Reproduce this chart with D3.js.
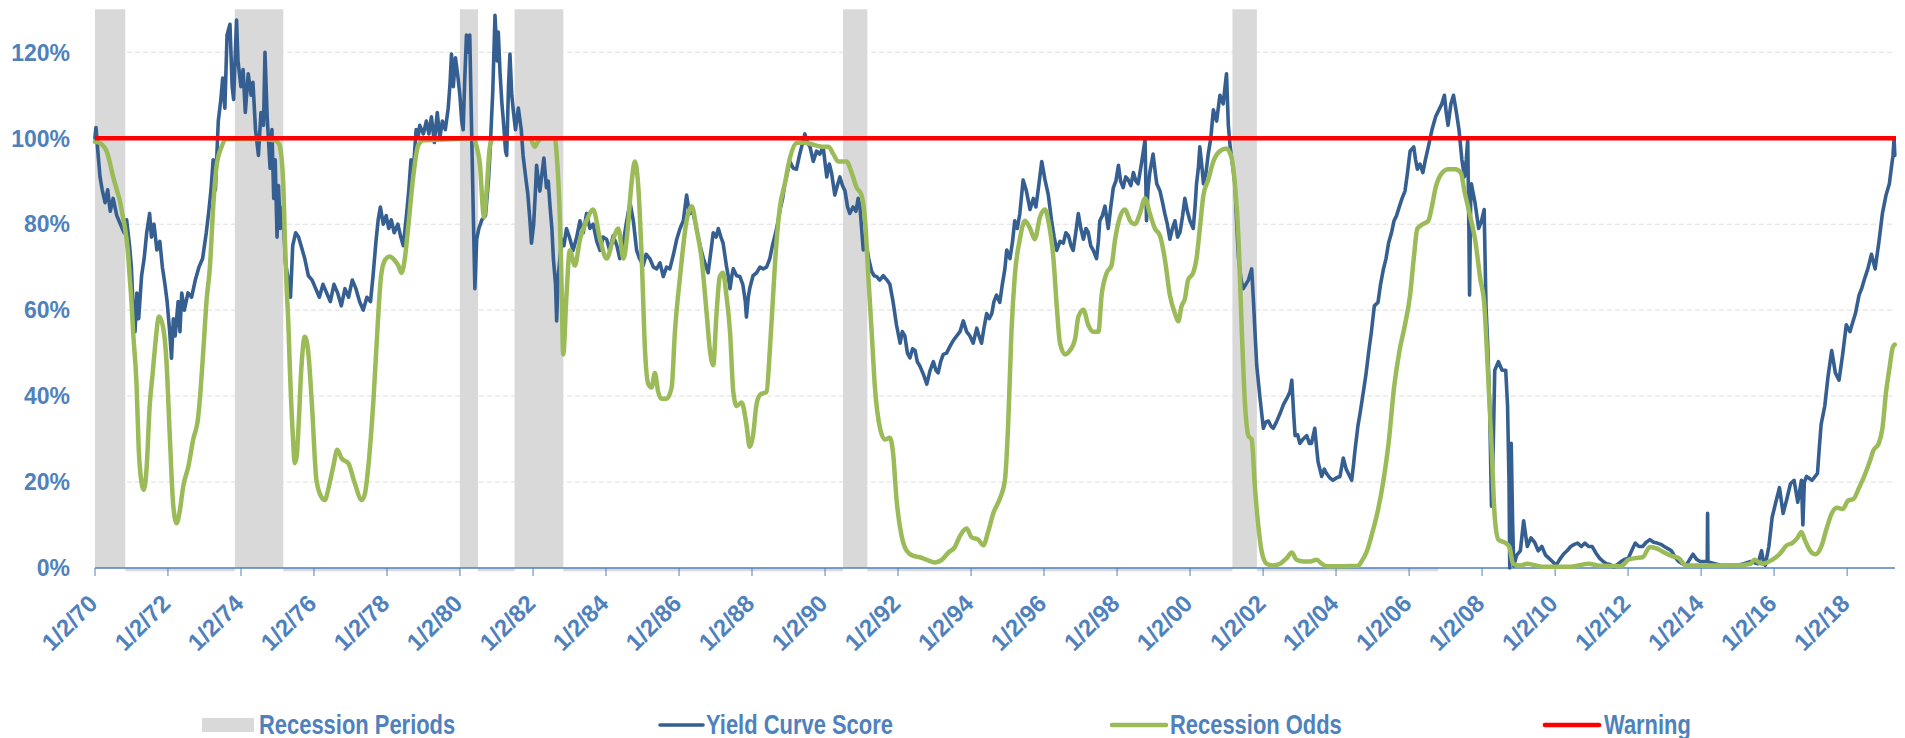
<!DOCTYPE html>
<html>
<head>
<meta charset="utf-8">
<script src="https://cdn.jsdelivr.net/npm/d3@7/dist/d3.min.js"></script>
<style>
html,body{margin:0;padding:0;background:#fff;}
svg{display:block;}
</style>
</head>
<body>
<svg id="chart" width="1905" height="738"></svg>
<script>
// ---------------- DATA ----------------
const tickLabels = ["1/2/70","1/2/72","1/2/74","1/2/76","1/2/78","1/2/80","1/2/82","1/2/84","1/2/86","1/2/88",
  "1/2/90","1/2/92","1/2/94","1/2/96","1/2/98","1/2/00","1/2/02","1/2/04","1/2/06","1/2/08","1/2/10",
  "1/2/12","1/2/14","1/2/16","1/2/18"];
const yTickValues = [0, 20, 40, 60, 80, 100, 120];
const yMax = 130;
const xEndYear = 2019.315;

const recessionStarts = ["1970-01-02","1973-11-01","1980-01-01","1981-07-01","1990-07-01","2001-03-01"];
const recessionEnds   = ["1970-11-01","1975-03-01","1980-07-01","1982-11-01","1991-03-01","2001-11-01"];
const recessionSeriesEnd = 2006.8;

const warningLevel = 100;

const scoreYears = [1970.00,1970.03,1970.08,1970.14,1970.2,1970.28,1970.35,1970.42,1970.5,1970.6,1970.7,1970.8,1970.87,1970.95,
1971.0,1971.05,1971.1,1971.15,1971.2,1971.28,1971.35,1971.42,1971.5,1971.55,1971.62,1971.7,1971.78,1971.85,1971.92,1971.98,
1972.05,1972.1,1972.15,1972.2,1972.28,1972.33,1972.38,1972.45,1972.55,1972.65,1972.75,1972.85,1972.95,
1973.05,1973.12,1973.18,1973.24,1973.3,1973.38,1973.45,1973.5,1973.56,1973.62,1973.7,1973.76,1973.8,1973.88,1973.92,
1974.0,1974.06,1974.12,1974.2,1974.28,1974.33,1974.4,1974.48,1974.55,1974.62,1974.66,1974.72,1974.8,1974.85,1974.9,1974.94,1974.99,
1975.03,1975.08,1975.15,1975.22,1975.3,1975.36,1975.42,1975.5,1975.58,1975.65,1975.75,1975.85,1975.95,
1976.05,1976.15,1976.25,1976.35,1976.45,1976.55,1976.65,1976.75,1976.85,1976.95,
1977.05,1977.15,1977.25,1977.35,1977.45,1977.55,1977.62,1977.7,1977.76,1977.82,1977.9,1977.98,
1978.05,1978.12,1978.2,1978.3,1978.38,1978.45,1978.54,1978.6,1978.66,1978.72,1978.8,1978.85,1978.9,
1979.0,1979.08,1979.15,1979.22,1979.3,1979.38,1979.45,1979.52,1979.6,1979.68,1979.73,1979.77,1979.82,1979.88,1979.95,
1980.0,1980.05,1980.09,1980.13,1980.18,1980.22,1980.27,1980.32,1980.37,1980.41,1980.46,1980.52,1980.6,1980.7,1980.78,1980.82,1980.9,1980.96,
1981.02,1981.05,1981.1,1981.15,1981.19,1981.25,1981.28,1981.33,1981.37,1981.42,1981.46,1981.52,1981.6,1981.68,1981.73,1981.8,1981.86,1981.92,1981.96,
1982.02,1982.07,1982.1,1982.15,1982.19,1982.25,1982.3,1982.37,1982.42,1982.47,1982.52,1982.56,1982.62,1982.65,1982.69,1982.74,1982.79,1982.85,1982.92,
1983.0,1983.1,1983.2,1983.29,1983.38,1983.47,1983.56,1983.65,1983.75,1983.84,1983.92,
1984.02,1984.1,1984.2,1984.3,1984.38,1984.48,1984.57,1984.66,1984.75,1984.84,1984.92,
1985.02,1985.1,1985.2,1985.3,1985.39,1985.48,1985.57,1985.66,1985.75,1985.85,1985.94,
1986.03,1986.12,1986.21,1986.26,1986.3,1986.38,1986.48,1986.58,1986.67,1986.75,1986.8,1986.88,1986.94,
1987.02,1987.08,1987.15,1987.21,1987.3,1987.35,1987.4,1987.45,1987.49,1987.58,1987.67,1987.75,1987.82,1987.85,1987.9,1987.94,
1988.03,1988.13,1988.22,1988.31,1988.4,1988.49,1988.56,1988.63,1988.7,1988.77,1988.84,1988.9,1988.97,
1989.04,1989.13,1989.22,1989.3,1989.36,1989.45,1989.52,1989.59,1989.68,1989.77,1989.86,1989.95,
1990.05,1990.12,1990.18,1990.27,1990.34,1990.41,1990.48,1990.55,1990.62,1990.68,1990.77,1990.85,1990.91,1990.96,
1991.05,1991.12,1991.2,1991.28,1991.35,1991.42,1991.5,1991.6,1991.7,1991.78,1991.87,1991.96,
1992.06,1992.12,1992.19,1992.26,1992.33,1992.4,1992.47,1992.53,1992.6,1992.7,1992.79,1992.88,1992.97,
1993.04,1993.1,1993.17,1993.24,1993.33,1993.42,1993.52,1993.61,1993.7,1993.79,1993.88,1993.97,
1994.06,1994.16,1994.22,1994.29,1994.36,1994.43,1994.5,1994.57,1994.63,1994.7,1994.79,1994.86,1994.93,1994.98,
1995.07,1995.14,1995.2,1995.27,1995.34,1995.38,1995.43,1995.52,1995.62,1995.71,1995.78,1995.85,1995.94,
1996.03,1996.12,1996.21,1996.28,1996.35,1996.44,1996.53,1996.6,1996.67,1996.74,1996.8,1996.87,1996.94,
1997.01,1997.08,1997.15,1997.21,1997.28,1997.35,1997.44,1997.49,1997.53,1997.6,1997.67,1997.76,1997.83,1997.9,1997.97,
1998.04,1998.1,1998.17,1998.24,1998.31,1998.38,1998.45,1998.52,1998.58,1998.68,1998.77,1998.79,1998.81,1998.85,1998.9,1998.99,
1999.05,1999.09,1999.18,1999.25,1999.31,1999.38,1999.45,1999.52,1999.59,1999.66,1999.73,1999.8,1999.86,1999.93,
2000.0,2000.09,2000.14,2000.18,2000.23,2000.27,2000.32,2000.37,2000.44,2000.5,2000.57,2000.64,2000.73,2000.82,2000.91,2000.96,
2001.0,2001.05,2001.1,2001.14,2001.23,2001.28,2001.33,2001.4,2001.46,2001.53,2001.6,2001.69,2001.74,2001.78,2001.83,2001.92,
2002.01,2002.08,2002.15,2002.22,2002.28,2002.37,2002.47,2002.56,2002.65,2002.74,2002.79,2002.84,2002.88,2002.95,
2003.01,2003.1,2003.2,2003.27,2003.33,2003.42,2003.47,2003.51,2003.61,2003.68,2003.74,2003.83,2003.92,
2004.02,2004.11,2004.2,2004.28,2004.34,2004.43,2004.48,2004.52,2004.6,2004.66,2004.75,2004.82,2004.9,2004.97,
2005.05,2005.15,2005.22,2005.3,2005.37,2005.44,2005.52,2005.59,2005.66,2005.74,2005.81,2005.89,2005.96,
2006.03,2006.13,2006.18,2006.23,2006.3,2006.38,2006.45,2006.53,2006.63,2006.73,2006.82,2006.9,2006.97,
2007.02,2007.07,2007.15,2007.22,2007.3,2007.37,2007.45,2007.52,2007.57,2007.61,2007.64,2007.66,2007.69,2007.71,2007.81,2007.91,2007.99,
2008.06,2008.11,2008.16,2008.21,2008.26,2008.31,2008.35,2008.45,2008.55,2008.65,2008.7,2008.74,2008.76,2008.8,2008.84,2008.87,2008.95,
2009.05,2009.14,2009.24,2009.34,2009.44,2009.54,2009.64,2009.74,2009.83,2009.93,
2010.03,2010.13,2010.23,2010.33,2010.43,2010.53,2010.62,2010.72,2010.82,2010.92,
2011.02,2011.12,2011.22,2011.32,2011.41,2011.51,2011.61,2011.71,2011.81,2011.91,
2012.01,2012.1,2012.2,2012.3,2012.4,2012.5,2012.6,2012.7,2012.8,2012.9,2012.99,
2013.09,2013.19,2013.29,2013.39,2013.49,2013.59,2013.69,2013.78,2013.88,2013.98,
2014.1,2014.17,2014.18,2014.19,2014.28,2014.38,2014.57,2014.77,2014.97,
2015.17,2015.36,2015.56,2015.66,2015.72,2015.76,2015.86,2015.95,
2016.05,2016.15,2016.25,2016.35,2016.45,2016.55,2016.65,2016.75,2016.79,2016.83,2016.89,
2017.04,2017.19,2017.24,2017.29,2017.39,2017.48,2017.58,2017.68,2017.78,2017.88,2017.98,
2018.08,2018.15,2018.23,2018.33,2018.4,2018.47,2018.57,2018.67,2018.77,2018.87,2018.97,
2019.07,2019.16,2019.21,2019.26,2019.29,2019.31];

const scoreValues = [100,102.5,97,91,88,85,88,83,86,82,80,78,81,75,
70,60,55,64,58,68,72,78,82.5,77,80,74,76,70,66,62,
55,48.8,58,54,62,55,64,60,64,63,67,70,72,
78,83,88,95,88,104,109,114,107,124,126.5,112,109,127.5,118,
112,116,106,115,110,113,102,96,106,103,120,105,93,102,86,95,77,
89,79,84,71,67,63,75,78,77,75,72,68,67,
65,63,66,64,62,66,64,61,65,63,
67,65,62,60,63,62,68,76,81,84,80,82,
79,81,78,80,77,75,82.5,88,95,92,102,100,103,
101,104,101,105,99,106,100,104,102,107,112.7,119.6,112,118.7,114,
110,104,102,113,124,120,124,102,81,65,76.5,79,81,82,90,96,111,128.6,
118,124.7,115,108,104,97,96,112,119.6,110,106.6,102,107,102,96,91,87,80.6,75.6,
80,88,93.7,90,87.7,92,95.4,88.5,90,84,79,72,66,57.5,67.8,72,76.5,75,79,
77,73.9,77,80.8,78,82.5,79,80,76,73.9,77,
76.5,74,77.3,75,72,76,80.8,85,80.8,73.9,72,
70.4,73,72,70,69.6,71,67.8,70,69.6,73,76.5,
79,80.8,86.8,84,82.5,83,79,75,72,70,68.7,74,78,
77,79,77,75.6,70.4,68,65,68,69.6,68,67.8,66,62,58.4,63,65,
68,68.7,70,69.6,70,72,75,77.3,80,83.4,86,89.4,92,
94.6,93,92.8,96,98,101,99,98,94.6,97,96.3,98,
91,94,92,86.8,89,91,89,87.7,84,82.5,84,83,86,84,
74,76,72,69,68,67.8,67,68,67,66,61.8,56.6,
52.3,55,54,50,48.9,51,50.6,48,47,45,42.8,46,48,
46,45.4,48,49.7,50,51.5,53,54,55,57.5,55,54,
52.3,55.8,54,52.3,56,59.2,58,59.2,62,63.5,61.8,66,69.6,74,
72,76,80.8,79,82.5,86,90.3,87.7,83.4,86,84,88.5,94.6,
90.3,86.8,80.8,77,73.9,76,75.6,78,77.3,75,73.9,78,82.5,
79,76.5,79,78.2,75,73.9,72,76,80.8,82,84.2,79,84,88.5,90,
93.7,90,88.5,91,90.3,89,92,90,89.4,94.6,99.7,90,80.8,88,92,96.3,
92,89.4,87.7,85,82.5,80,76.5,79,80.8,77,78.2,82,86,83,
80.8,79,84,89.4,93,98,94,89.4,92,96.3,100,106.6,104,110,108,112,
115,103,98,95.4,89.4,80,72,67,65,66,67,69.6,62,55,47,39.4,
32.5,34,34.2,33,32.5,34,36,38,39.4,41,43.7,36,30.8,31,
29,30,30.8,29,29,32.5,28,24.7,21.3,23,22,21,20.4,
21,21.3,25.6,23,22,20.4,24,27.3,33,36,41,45,50.6,55,
61,61.8,66,69.6,72,75.6,78,80.8,82,84.2,86,87.7,92,
97,98,95,92.8,94,92,95,98,102,105,106.6,108,110,
106,103,108,110,106,102,95,91,95,99.7,80,63.5,85,89.4,85,79,80.8,
83.4,61,51.5,37.7,14.4,29,46,48,46,46,37.7,20,0,29,10,0.5,3,
4,11,5,7,6,4,5,3,2.3,1.5,
0.6,2,3.2,4,5,5.5,5.8,5,5.8,5,
5,3.5,2.3,1.5,1,0.8,0.2,0.8,1.5,2,
2.3,4,5.8,5,5,6,6.6,6,5.8,5.5,5,
4.5,4,2.5,1.5,1,0.6,2,3.2,2,1.5,
1.5,1.5,12.7,1.5,1.2,1,0.6,0.6,0.6,
1,1.5,1,4,1,0.6,5,11.8,
15.3,18.7,12.7,16,19.6,20.4,15.3,20.4,10,20,21.3,
20.4,22,28,33.4,37.7,44.6,50.6,45.4,43.7,49.7,56.6,
55,57,59.2,63.5,65,67,69.6,73,69.6,75.6,82.5,
86.8,89.4,92.8,96,100,96];

const oddsYears = [1970.0,1970.1,1970.2,1970.32,1970.42,1970.5,1970.6,1970.68,1970.76,1970.82,1970.9,1970.96,
1971.0,1971.05,1971.14,1971.2,1971.26,1971.34,1971.42,1971.5,1971.58,1971.64,1971.76,1971.87,1971.96,
1972.05,1972.15,1972.24,1972.33,1972.42,1972.56,1972.69,1972.83,1972.9,1972.97,
1973.06,1973.15,1973.24,1973.33,1973.47,1973.6,1974.0,1974.5,1974.9,1975.02,1975.07,1975.16,1975.2,1975.25,1975.3,1975.34,
1975.42,1975.48,1975.53,1975.57,1975.66,1975.75,1975.84,1975.94,
1976.07,1976.2,1976.3,1976.39,1976.53,1976.64,1976.76,1976.94,
1977.12,1977.31,1977.4,1977.49,1977.63,1977.76,1977.84,1977.95,
1978.08,1978.22,1978.31,1978.4,1978.49,1978.58,1978.72,1978.86,
1979.0,1979.6,1980.36,1980.46,1980.55,1980.64,1980.66,1980.73,1980.82,1980.91,
1981.5,1981.92,1982.05,1982.14,1982.28,1982.6,1982.65,1982.74,1982.79,1982.83,1982.92,
1983.01,1983.15,1983.29,1983.47,1983.65,1983.84,
1984.02,1984.2,1984.34,1984.48,1984.57,1984.7,1984.79,1984.88,1984.98,
1985.07,1985.16,1985.25,1985.34,1985.43,1985.52,1985.66,1985.8,1985.89,
1986.03,1986.21,1986.35,1986.48,1986.62,1986.76,1986.85,1986.94,
1987.03,1987.12,1987.21,1987.3,1987.4,1987.49,1987.58,1987.72,1987.85,1987.94,
1988.03,1988.12,1988.22,1988.4,1988.49,1988.58,1988.67,1988.77,1988.9,
1989.04,1989.22,1989.4,1989.96,1990.1,1990.23,1990.36,1990.59,1990.73,1990.87,
1991.0,1991.1,1991.19,1991.28,1991.37,1991.51,1991.64,1991.78,1991.87,1991.96,
1992.1,1992.24,1992.42,1992.6,1992.79,1993.01,1993.2,1993.38,1993.56,1993.7,1993.88,
1994.02,1994.2,1994.34,1994.47,1994.61,1994.79,1994.93,
1995.02,1995.11,1995.2,1995.34,1995.48,1995.62,1995.75,1995.89,
1996.03,1996.12,1996.26,1996.35,1996.44,1996.58,1996.71,1996.85,1996.94,
1997.08,1997.21,1997.35,1997.49,1997.58,1997.72,1997.85,1997.95,
1998.08,1998.22,1998.36,1998.49,1998.63,1998.77,1998.9,
1999.04,1999.18,1999.31,1999.45,1999.59,1999.68,1999.77,1999.86,1999.95,
2000.09,2000.18,2000.27,2000.37,2000.5,2000.64,2000.82,
2001.0,2001.14,2001.23,2001.33,2001.42,2001.51,2001.6,2001.69,2001.78,2001.87,2001.96,
2002.1,2002.28,2002.47,2002.65,2002.79,2002.92,2003.11,2003.29,2003.47,2003.61,2003.74,
2004.2,2004.6,2004.7,2004.85,2005.0,2005.15,2005.3,2005.44,2005.59,2005.74,2005.89,
2006.03,2006.13,2006.23,2006.38,2006.53,2006.63,2006.73,2006.87,
2007.07,2007.27,2007.42,2007.52,2007.66,2007.81,2007.96,
2008.06,2008.16,2008.26,2008.35,2008.45,2008.65,2008.75,2008.85,
2009.05,2009.24,2009.64,2010.43,2010.92,2011.22,2011.81,
2012.01,2012.2,2012.4,2012.6,2012.8,2012.99,2013.19,2013.39,2013.59,
2014.38,2014.97,2015.36,2015.46,2015.66,2015.95,
2016.15,2016.35,2016.5,2016.65,2016.75,2016.84,2016.99,
2017.14,2017.29,2017.44,2017.58,2017.73,2017.88,
2018.03,2018.18,2018.33,2018.47,2018.62,2018.72,2018.87,2018.97,
2019.07,2019.16,2019.26,2019.31];

const oddsValues = [99.2,99,98.5,97,94,91,88,85.6,82,79.4,74,67,
62.4,54.6,43,28,21,18.2,23.6,37.5,45,50.7,58.5,56,48.4,
31.3,14.3,10.4,13.5,19,23.6,29.8,35.2,42,50.7,
62.4,70,84,93.4,98,99.8,99.8,99.8,99.5,99,98,89.5,78,66,57,46.9,
31.3,24.4,26,31.3,46.9,53.8,50.7,39,
20.5,16.6,15.8,18.2,23.6,27.5,25.5,24.4,
19.7,15.8,17.4,23.6,39,58.5,68,71.7,
72.5,71.5,70.4,68.7,72,79,91,98.4,
99.5,99.7,100,98,93.7,82.5,81.6,87.7,98,100,
100,100,98,99.3,100,100,96.3,80.8,63.5,49.7,63.5,
73.9,70.4,76.5,80.8,83.4,76.5,
72,76.5,79,72,76.5,89.4,94.6,89.4,72,
50.6,42.8,42,45.4,41,39.4,39.4,42,55,
67.8,80.8,84.2,79,72,59.2,50.6,47.2,
59.2,67.8,68.7,63.5,55,41,37.7,38.5,33.4,28.2,
30.8,37.7,40.3,41,50.6,63.5,75.6,84.2,89.4,
95.4,98.9,99,98,98,96.3,94.6,94.6,92,88.5,
86.8,80.8,67.8,55,42,32.5,29.9,30.3,26.5,16.1,
7.5,4,2.8,2.5,1.9,1.3,1.9,3.6,4.9,7.5,9.2,
7.1,6.6,5.3,8.4,12.7,16.1,20.4,
33.4,55,67.8,76.5,80.8,79,76.5,81.6,
83.4,80.8,72,61,52.3,49.7,50.6,53.2,58.4,
60.1,56.6,55,55,63.5,68.7,70.4,76.5,
81.6,83.4,80.8,80,82.5,86,82.5,
79,77.3,72,63.5,59.2,57.4,60.9,62.6,67,
68.7,72,79,86.8,90.3,94.6,97,
97.6,95.4,89.4,76.5,55,37.7,30.8,29.9,18.7,10,4,
1,0.6,1,2.3,3.6,1.9,1.5,1.5,1.9,1,0.4,
0.4,0.5,1.5,4,8.4,13.5,20.4,29,42,50.6,56.6,
63.5,72,79,80,80.8,84.2,88.5,91.5,
92.8,92.8,92,87.7,82.5,76.5,67,
61.8,46.3,29,11.8,6.6,5.8,4.9,1,
0.6,1,0.3,0.3,1,0.5,0.4,
1.9,2.3,2.5,4.9,4.5,3.6,2.8,2.3,0.6,
0.6,0.6,1,1.9,1,1.9,
3.2,5.3,5.8,7.1,8.4,6.6,4,
3.2,4.9,9.2,12.7,14,13.7,
15.7,16.1,18.7,21.3,24.7,27.3,29,32.5,
41,46.3,51.5,52];

// ---------------- CHART ----------------
const W = 1905, H = 738;
const plot = {left: 95, right: 1895, top: 9.3, bottom: 568};
const C = {
  text: "#4F81BD", axis: "#4F81BD", grid: "#DDDDDD", shade: "#D9D9D9",
  score: "#365F91", odds: "#9BBB59", warn: "#FF0000"
};
const FONT = "'Liberation Sans', Arial, Helvetica, sans-serif";

function yearToDate(y) {
  const yr = Math.floor(y);
  const a = Date.UTC(yr, 0, 1), b = Date.UTC(yr + 1, 0, 1);
  return new Date(a + (y - yr) * (b - a));
}
const parseTick = d3.utcParse("%m/%d/%y");
const parseDay = d3.utcParse("%Y-%m-%d");

const x = d3.scaleUtc()
  .domain([parseTick(tickLabels[0]), yearToDate(xEndYear)])
  .range([plot.left, plot.right]);
const y = d3.scaleLinear().domain([0, yMax]).range([plot.bottom, plot.top]);

const svg = d3.select("#chart");
svg.append("rect").attr("width", W).attr("height", H).attr("fill", "#fff");

// gridlines
svg.append("g").selectAll("line")
  .data(yTickValues.filter(v => v > 0))
  .join("line")
  .attr("x1", plot.left).attr("x2", plot.right)
  .attr("y1", d => y(d)).attr("y2", d => y(d))
  .attr("stroke", C.grid).attr("stroke-width", 1)
  .attr("stroke-dasharray", "5,3");

// recession shading
const recessions = recessionStarts.map((s, i) => ({s: parseDay(s), e: parseDay(recessionEnds[i])}));
svg.append("g").selectAll("rect")
  .data(recessions)
  .join("rect")
  .attr("x", d => x(d.s))
  .attr("width", d => x(d.e) - x(d.s))
  .attr("y", y(yMax))
  .attr("height", y(0) - y(yMax))
  .attr("fill", C.shade);

// baseline strip of the recession series (zero segments)
const stripSegs = [];
let cur = x.domain()[0];
recessions.forEach(r => { if (r.s > cur) stripSegs.push([cur, r.s]); cur = r.e; });
stripSegs.push([cur, yearToDate(recessionSeriesEnd)]);
svg.append("g").selectAll("line")
  .data(stripSegs)
  .join("line")
  .attr("x1", d => x(d[0])).attr("x2", d => x(d[1]))
  .attr("y1", y(0) + 1.5).attr("y2", y(0) + 1.5)
  .attr("stroke", C.shade).attr("stroke-width", 3.5);

// x axis
const tickDates = tickLabels.map(parseTick);
const xAxis = svg.append("g");
xAxis.append("line")
  .attr("x1", plot.left).attr("x2", plot.right)
  .attr("y1", y(0)).attr("y2", y(0))
  .attr("stroke", C.axis).attr("stroke-width", 1.3);
xAxis.selectAll("line.tick")
  .data(tickDates)
  .join("line").attr("class", "tick")
  .attr("x1", d => x(d)).attr("x2", d => x(d))
  .attr("y1", y(0)).attr("y2", y(0) + 8)
  .attr("stroke", C.axis).attr("stroke-width", 1);
xAxis.selectAll("text")
  .data(tickLabels)
  .join("text")
  .attr("transform", d => `translate(${x(parseTick(d)) + 4},${y(0) + 37}) rotate(-45)`)
  .attr("text-anchor", "end")
  .attr("font-family", FONT).attr("font-weight", "bold").attr("font-size", 24)
  .attr("fill", C.text)
  .text(d => d);

// y axis labels
svg.append("g").selectAll("text")
  .data(yTickValues)
  .join("text")
  .attr("x", plot.left - 25)
  .attr("y", d => y(d))
  .attr("dy", "0.36em")
  .attr("text-anchor", "end")
  .attr("font-family", FONT).attr("font-weight", "bold").attr("font-size", 23)
  .attr("fill", C.text)
  .text(d => d + "%");

// series
const scoreData = scoreYears.map((t, i) => ({d: yearToDate(t), v: scoreValues[i]}));
const oddsData = oddsYears.map((t, i) => ({d: yearToDate(t), v: oddsValues[i]}));

svg.append("path")
  .datum(scoreData)
  .attr("fill", "none").attr("stroke", C.score).attr("stroke-width", 3.6)
  .attr("stroke-linejoin", "round").attr("stroke-linecap", "round")
  .attr("d", d3.line().x(p => x(p.d)).y(p => y(p.v)));

svg.append("path")
  .datum(oddsData)
  .attr("fill", "none").attr("stroke", C.odds).attr("stroke-width", 4.5)
  .attr("stroke-linejoin", "round").attr("stroke-linecap", "round")
  .attr("d", d3.line().x(p => x(p.d)).y(p => y(p.v)).curve(d3.curveMonotoneX));

// warning line
svg.append("line")
  .attr("x1", x.range()[0]).attr("x2", x.range()[1] + 1)
  .attr("y1", y(warningLevel)).attr("y2", y(warningLevel))
  .attr("stroke", C.warn).attr("stroke-width", 4.6);

// legend
const legendItems = [
  {label: "Recession Periods", kind: "rect", color: C.shade, x0: 202, x1: 254, tx: 259},
  {label: "Yield Curve Score", kind: "line", color: C.score, w: 3.6, x0: 660, x1: 703, tx: 706},
  {label: "Recession Odds", kind: "line", color: C.odds, w: 4.5, x0: 1112, x1: 1166, tx: 1170},
  {label: "Warning", kind: "line", color: C.warn, w: 4.6, x0: 1545, x1: 1599, tx: 1604}
];
const legY = 725;
const lg = svg.append("g");
legendItems.forEach(it => {
  if (it.kind === "rect") {
    lg.append("rect").attr("x", it.x0).attr("y", legY - 7).attr("width", it.x1 - it.x0).attr("height", 14)
      .attr("fill", it.color);
  } else {
    lg.append("line").attr("x1", it.x0).attr("x2", it.x1).attr("y1", legY).attr("y2", legY)
      .attr("stroke", it.color).attr("stroke-width", it.w).attr("stroke-linecap", "round");
  }
  lg.append("text")
    .attr("transform", `translate(${it.tx},${legY + 9}) scale(0.86,1.05)`)
    .attr("font-family", FONT).attr("font-weight", "bold").attr("font-size", 25.5)
    .attr("fill", C.text)
    .text(it.label);
});
</script>
</body>
</html>
